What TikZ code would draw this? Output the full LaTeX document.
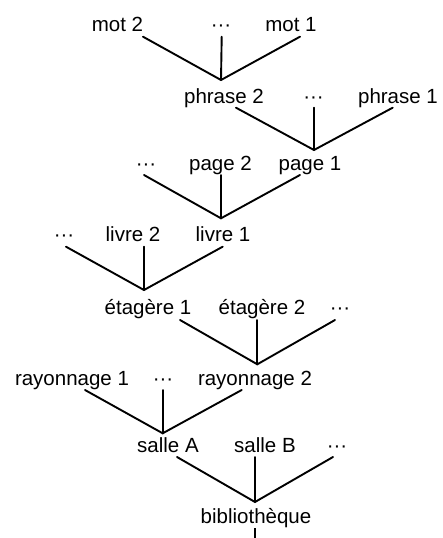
\documentclass[tikz,border=0pt]{standalone}
\usepackage{fontspec}
\setmainfont{Liberation Sans}
\begin{document}
\begin{tikzpicture}[x=1pt,y=-1pt,
  lbl/.style={anchor=base, inner sep=0pt, font=\fontsize{20.5}{24}\selectfont},
  edge/.style={line width=1.9pt, line cap=round}]
\useasboundingbox (0,0) rectangle (442,538);
% row 1
\node[lbl] (mot2) at (117.5,31.7) {mot 2};
\node[lbl] (d1) at (221,31.7) {···};
\node[lbl] (mot1) at (291,31.7) {mot 1};
% row 2
\node[lbl] (phrase2) at (224,103) {phrase 2};
\node[lbl] (d2) at (313.5,103) {···};
\node[lbl] (phrase1) at (398,103) {phrase 1};
% row 3
\node[lbl] (d3) at (146,170) {···};
\node[lbl] (page2) at (220.5,170) {page 2};
\node[lbl] (page1) at (310,170) {page 1};
% row 4
\node[lbl] (d4) at (64,241) {···};
\node[lbl] (livre2) at (133,241) {livre 2};
\node[lbl] (livre1) at (223,241) {livre 1};
% row 5
\node[lbl] (et1) at (148,314) {étagère 1};
\node[lbl] (et2) at (262,314) {étagère 2};
\node[lbl] (d5) at (340,314) {···};
% row 6
\node[lbl] (ray1) at (72,385) {rayonnage 1};
\node[lbl] (d6) at (163,385) {···};
\node[lbl] (ray2) at (255,385) {rayonnage 2};
% row 7
\node[lbl] (salleA) at (168,452) {salle A};
\node[lbl] (salleB) at (265,452) {salle B};
\node[lbl] (d7) at (337,452) {···};
% row 8
\node[lbl] (biblio) at (256,523) {bibliothèque};

% connector end points
\coordinate (a1) at (143,36.7);   \coordinate (b1) at (221.7,36.7); \coordinate (c1) at (300,36.7);   \coordinate (v1) at (221,80);
\coordinate (a2) at (236,107.7);  \coordinate (b2) at (314,107.7);  \coordinate (c2) at (392.7,107.7); \coordinate (v2) at (314,150);
\coordinate (a3) at (144,175);    \coordinate (b3) at (221,175);    \coordinate (c3) at (300,175);    \coordinate (v3) at (221,218.3);
\coordinate (a4) at (66,246.7);   \coordinate (b4) at (144,246.7);  \coordinate (c4) at (222.7,246.7); \coordinate (v4) at (144,290);
\coordinate (a5) at (180,320);    \coordinate (b5) at (257.3,320);  \coordinate (c5) at (335,320);    \coordinate (v5) at (257.3,364.3);
\coordinate (a6) at (85,390);     \coordinate (b6) at (162.7,390);  \coordinate (c6) at (241.7,390);  \coordinate (v6) at (162.7,433.3);
\coordinate (a7) at (177,457);    \coordinate (b7) at (255,457);    \coordinate (c7) at (333,457);    \coordinate (v7) at (255,502);
\coordinate (a8) at (255,528);    \coordinate (e8) at (255,540);

\foreach \i in {1,...,7}{
  \draw[edge] (a\i) -- (v\i) -- (c\i);
  \draw[edge] (b\i) -- (v\i);
}
\draw[edge, line cap=butt] (a8) -- (e8);
\end{tikzpicture}
\end{document}
